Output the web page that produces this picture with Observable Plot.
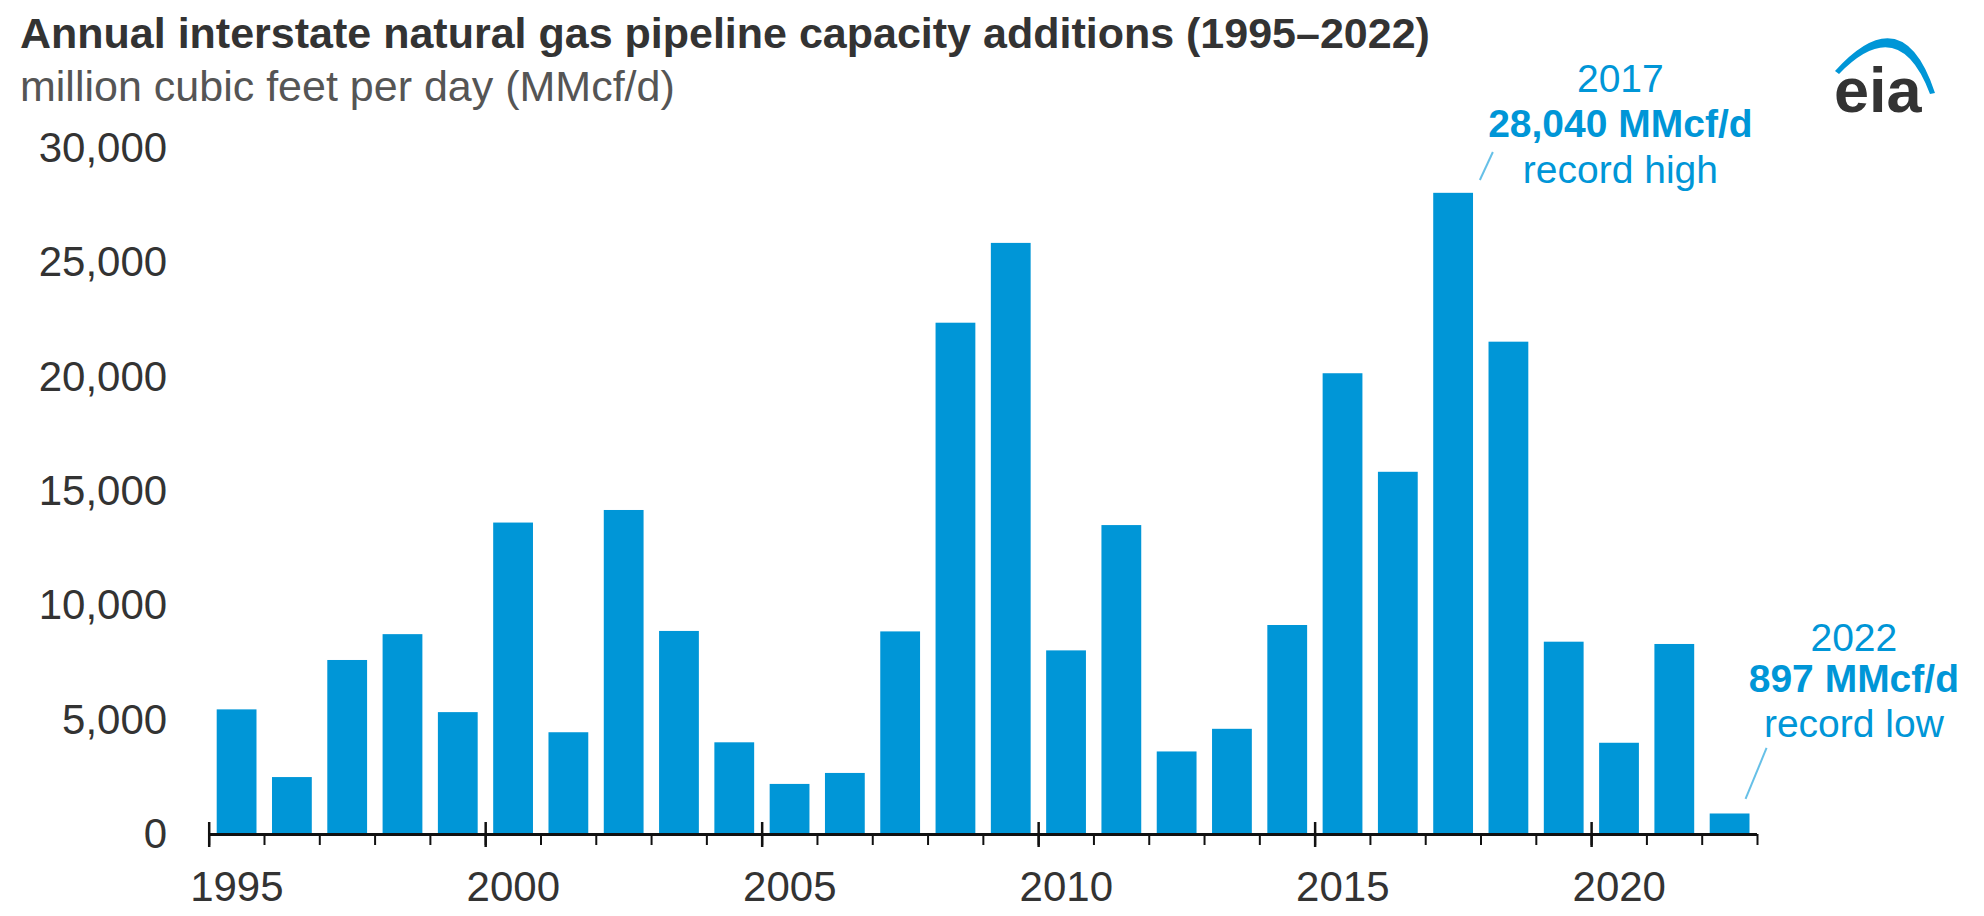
<!DOCTYPE html>
<html>
<head>
<meta charset="utf-8">
<script src="https://cdn.jsdelivr.net/npm/d3@7"></script>
<script src="https://cdn.jsdelivr.net/npm/@observablehq/plot@0.6"></script>
<style>
  html, body { margin: 0; padding: 0; background: #fff; }
  #page { position: relative; width: 1984px; height: 916px; overflow: hidden; font-family: "Liberation Sans", Arial, sans-serif; }
  #header { position: relative; height: 112px; }
  #title { position: absolute; left: 20px; top: 11.6px; font-size: 43px; line-height: 43px; font-weight: bold; color: #333; white-space: nowrap; }
  #subtitle { position: absolute; left: 20px; top: 64.6px; font-size: 43px; line-height: 43px; color: #555; white-space: nowrap; }
  #logo { position: absolute; left: 0; top: 0; pointer-events: none; z-index: 2; }
  #chart svg { display: block; overflow: visible; }
</style>
</head>
<body>
<div id="page">
  <div id="header">
    <div id="title">Annual interstate natural gas pipeline capacity additions (1995–2022)</div>
    <div id="subtitle">million cubic feet per day (MMcf/d)</div>
  </div>
  <svg id="logo" width="1984" height="140" viewBox="0 0 1984 140">
    <path d="M1835,71 Q1903,-4 1935,93 L1930,94 Q1899,12 1839,74 Z" fill="#0096d7"/>
    <text x="1834" y="112" font-family="Liberation Sans, Arial, sans-serif" font-weight="bold" font-size="63" fill="#333">eia</text>
  </svg>
  <div id="chart"></div>
</div>
<script>
// ---- data ----
const years = [1995, 1996, 1997, 1998, 1999, 2000, 2001, 2002, 2003, 2004, 2005, 2006, 2007, 2008,
               2009, 2010, 2011, 2012, 2013, 2014, 2015, 2016, 2017, 2018, 2019, 2020, 2021, 2022];
const capacity = [5450, 2490, 7610, 8740, 5330, 13620, 4450, 14170, 8880, 4010, 2190, 2670, 8860, 22360,
                  25850, 8030, 13510, 3610, 4600, 9140, 20150, 15840, 28040, 21530, 8410, 3990, 8310, 897];
const yTicks = [0, 5000, 10000, 15000, 20000, 25000, 30000];
const xTickLabels = [1995, 2000, 2005, 2010, 2015, 2020];
const yearBoundaries = [1995, 1996, 1997, 1998, 1999, 2000, 2001, 2002, 2003, 2004, 2005, 2006, 2007, 2008,
                        2009, 2010, 2011, 2012, 2013, 2014, 2015, 2016, 2017, 2018, 2019, 2020, 2021, 2022, 2023];
const highYear = 2017;
const highLines = ["2017", "28,040 MMcf/d", "record high"];
const lowYear = 2022;
const lowLines = ["2022", "897 MMcf/d", "record low"];

const data = years.map((year, i) => ({year, value: capacity[i]}));
const highDatum = data.filter(d => d.year === highYear);
const lowDatum = data.filter(d => d.year === lowYear);

const BLUE = "#0096d7";
const INK = "#111";

function annotation(datum, lines, dx, dys) {
  return [
    Plot.text(datum, {x: d => d.year + 0.5, y: "value", text: () => lines[0], dx, dy: dys[0],
      lineAnchor: "bottom", textAnchor: "middle", fill: BLUE, fontSize: 39}),
    Plot.text(datum, {x: d => d.year + 0.5, y: "value", text: () => lines[1], dx, dy: dys[1],
      lineAnchor: "bottom", textAnchor: "middle", fill: BLUE, fontSize: 39, fontWeight: "bold"}),
    Plot.text(datum, {x: d => d.year + 0.5, y: "value", text: () => lines[2], dx, dy: dys[2],
      lineAnchor: "bottom", textAnchor: "middle", fill: BLUE, fontSize: 39})
  ];
}

const chart = Plot.plot({
  width: 1984,
  height: 804,
  marginLeft: 208.7,
  marginRight: 227,
  marginTop: 36,
  marginBottom: 82,
  style: {fontFamily: "Liberation Sans, Arial, sans-serif", fontSize: "42px", color: "#333", background: "transparent", overflow: "visible"},
  x: {domain: [1995, 2023], axis: null},
  y: {domain: [0, 30000], ticks: yTicks, tickFormat: d3.format(","), tickSize: 0, tickPadding: 42, label: null},
  marks: [
    Plot.rectY(data, {x1: "year", x2: d => d.year + 1, y: "value", fill: BLUE, insetLeft: 8, insetRight: 7.5}),
    Plot.ruleY([0], {stroke: INK, strokeWidth: 3}),
    Plot.ruleX(yearBoundaries, {x: d => d, y1: () => 0, y2: () => 0, insetTop: 0, insetBottom: -11, stroke: INK, strokeWidth: 2}),
    Plot.ruleX(xTickLabels, {x: d => d, y1: () => 0, y2: () => 0, insetTop: -12, insetBottom: -13, stroke: INK, strokeWidth: 2.5}),
    Plot.text(xTickLabels, {x: d => d + 0.5, y: () => 0, text: d => String(d), dy: 66, lineAnchor: "bottom", fill: "#333"}),
    ...annotation(highDatum, highLines, 167, [-101.8, -56.8, -10.8]),
    ...annotation(lowDatum, lowLines, 124, [-162.5, -121.5, -76.5])
  ]
});
document.getElementById("chart").appendChild(chart);

// leader lines positioned from the plot's own scales
const xs = chart.scale("x"), ys = chart.scale("y");
const leaders = [
  {d: highDatum[0], o: [27, -12.8, 40, -40.8]},
  {d: lowDatum[0], o: [16.2, -14.5, 37.2, -65.5]}
];
const svg = d3.select(chart);
for (const {d, o} of leaders) {
  const cx = xs.apply(d.year + 0.5), cy = ys.apply(d.value);
  svg.append("line")
    .attr("x1", cx + o[0]).attr("y1", cy + o[1])
    .attr("x2", cx + o[2]).attr("y2", cy + o[3])
    .attr("stroke", BLUE).attr("stroke-opacity", 0.6).attr("stroke-width", 2);
}
</script>
</body>
</html>
